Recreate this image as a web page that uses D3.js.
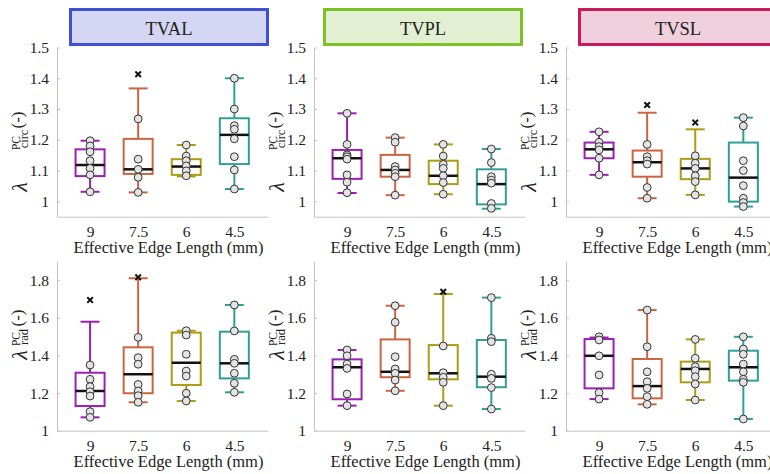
<!DOCTYPE html>
<html>
<head>
<meta charset="utf-8">
<script src="https://cdn.jsdelivr.net/npm/d3@7"></script>
<style>
  html, body { margin: 0; padding: 0; background: #fff; }
  svg { display: block; }
</style>
</head>
<body>
<svg id="chart" width="770" height="474"></svg>
<script>
// Effective edge lengths (mm) shown on every panel
const categories = ["9", "7.5", "6", "4.5"];
const panelNames = ["TVAL", "TVPL", "TVSL"];
const metricNames = ["circ", "rad"];

// Box statistics per edge length: [lower whisker, Q1, median, Q3, upper whisker]
// followed by the individual specimens and the flagged outliers.

// TVAL – circumferential stretch
const tvalCircBoxes = [[1.031, 1.082, 1.118, 1.169, 1.197], [1.029, 1.089, 1.104, 1.203, 1.367], [1.081, 1.086, 1.113, 1.137, 1.183], [1.040, 1.121, 1.216, 1.270, 1.400]];
const tvalCircPoints = [[1.197, 1.180, 1.161, 1.132, 1.107, 1.086, 1.031], [1.268, 1.137, 1.104, 1.078, 1.029], [1.183, 1.147, 1.132, 1.115, 1.099, 1.083], [1.400, 1.300, 1.246, 1.234, 1.203, 1.145, 1.102, 1.040]];
const tvalCircOutliers = [[], [1.413], [], []];

// TVAL – radial stretch
const tvalRadBoxes = [[1.071, 1.131, 1.211, 1.308, 1.579], [1.151, 1.199, 1.300, 1.443, 1.810], [1.158, 1.243, 1.361, 1.521, 1.531], [1.204, 1.278, 1.358, 1.526, 1.668]];
const tvalRadPoints = [[1.349, 1.273, 1.234, 1.207, 1.184, 1.101, 1.071], [1.496, 1.388, 1.353, 1.246, 1.211, 1.186, 1.151], [1.531, 1.508, 1.406, 1.317, 1.290, 1.199, 1.158], [1.668, 1.530, 1.379, 1.358, 1.305, 1.252, 1.204]];
const tvalRadOutliers = [[1.694], [1.815], [], []];

// TVPL – circumferential stretch
const tvplCircBoxes = [[1.027, 1.073, 1.140, 1.167, 1.286], [1.020, 1.080, 1.102, 1.151, 1.207], [1.023, 1.056, 1.083, 1.132, 1.185], [0.976, 0.990, 1.056, 1.104, 1.170]];
const tvplCircPoints = [[1.286, 1.185, 1.151, 1.145, 1.137, 1.086, 1.062, 1.028], [1.207, 1.192, 1.113, 1.102, 1.091, 1.080, 1.020], [1.185, 1.147, 1.120, 1.107, 1.083, 1.061, 1.023], [1.170, 1.126, 1.080, 1.069, 1.059, 0.993, 0.977]];
const tvplCircOutliers = [[], [], [], []];

// TVPL – radial stretch
const tvplRadBoxes = [[1.133, 1.167, 1.337, 1.379, 1.429], [1.212, 1.284, 1.313, 1.485, 1.664], [1.133, 1.273, 1.305, 1.455, 1.726], [1.115, 1.231, 1.287, 1.482, 1.707]];
const tvplRadPoints = [[1.429, 1.398, 1.354, 1.331, 1.195, 1.133], [1.664, 1.576, 1.393, 1.328, 1.305, 1.269, 1.212], [1.450, 1.308, 1.284, 1.257, 1.133], [1.707, 1.491, 1.473, 1.300, 1.278, 1.229, 1.115]];
const tvplRadOutliers = [[], [], [1.738], []];

// TVSL – circumferential stretch
const tvslCircBoxes = [[1.086, 1.140, 1.169, 1.191, 1.226], [1.010, 1.080, 1.127, 1.165, 1.288], [1.021, 1.072, 1.107, 1.138, 1.234], [0.983, 0.999, 1.077, 1.191, 1.272]];
const tvslCircPoints = [[1.226, 1.192, 1.178, 1.167, 1.140, 1.086], [1.185, 1.145, 1.132, 1.121, 1.045, 1.010], [1.148, 1.124, 1.107, 1.083, 1.064, 1.021], [1.272, 1.245, 1.132, 1.100, 1.051, 1.010, 0.996, 0.983]];
const tvslCircOutliers = [[], [1.313], [1.256], []];

// TVSL – radial stretch
const tvslRadBoxes = [[1.168, 1.225, 1.398, 1.487, 1.495], [1.140, 1.172, 1.237, 1.381, 1.641], [1.163, 1.257, 1.328, 1.367, 1.485], [1.062, 1.266, 1.337, 1.425, 1.499]];
const tvslRadPoints = [[1.499, 1.482, 1.398, 1.296, 1.202, 1.168], [1.641, 1.446, 1.313, 1.260, 1.225, 1.181, 1.140], [1.485, 1.385, 1.340, 1.319, 1.287, 1.248, 1.163], [1.499, 1.434, 1.406, 1.354, 1.313, 1.273, 1.257, 1.062]];
const tvslRadOutliers = [[], [], [], []];

// Axis ticks per row
const circTicks = [1, 1.1, 1.2, 1.3, 1.4, 1.5];
const radTicks = [1, 1.2, 1.4, 1.6, 1.8];

// ---------------------------------------------------------------------------
const FONT = "Liberation Serif, Tinos, Times New Roman, Times, DejaVu Serif, serif";
const boxColors = ["#9b1fb5", "#cc6440", "#ae9d14", "#2f9f98"];
const titleFill = ["#d4d6f4", "#e2efd3", "#f1d0dd"];
const titleStroke = ["#3e50d4", "#7cc224", "#c81b5e"];

const panels = [
  { name: panelNames[0], data: [[tvalCircBoxes, tvalCircPoints, tvalCircOutliers], [tvalRadBoxes, tvalRadPoints, tvalRadOutliers]] },
  { name: panelNames[1], data: [[tvplCircBoxes, tvplCircPoints, tvplCircOutliers], [tvplRadBoxes, tvplRadPoints, tvplRadOutliers]] },
  { name: panelNames[2], data: [[tvslCircBoxes, tvslCircPoints, tvslCircOutliers], [tvslRadBoxes, tvslRadPoints, tvslRadOutliers]] }
];

// Layout
const axisLeft = [57, 314, 566];
const axisWidth = 211;
const titleLeft = [69, 323, 578];
// y-label pieces (vertical centres): lambda, superscript, subscript, "(-)"
const rows = [
  { domain: [0.95, 1.5], range: [216.7, 47.5], ticks: circTicks, lab: [187, 143, 139, 120] },
  { domain: [1, 1.9], range: [430.7, 261.3], ticks: radTicks, lab: [355, 339, 337, 318] }
];

const svg = d3.select("#chart").style("font-family", FONT);
const axisGrey = "#c4c4c4";
const textCol = "#222";

function vtext(g, x, y, size, str, italic) {
  return g.append("text")
    .attr("transform", `translate(${x},${y}) rotate(-90)`)
    .attr("text-anchor", "middle")
    .style("font-family", FONT)
    .style("font-size", size + "px")
    .style("font-style", italic ? "italic" : "normal")
    .attr("fill", textCol)
    .text(str);
}

panels.forEach((panel, pi) => {
  const x = d3.scaleLinear().domain([0.3125, 4.7]).range([axisLeft[pi], axisLeft[pi] + axisWidth]);

  // title strip
  svg.append("rect")
    .attr("x", titleLeft[pi] + 1.5).attr("y", 9.5)
    .attr("width", 197).attr("height", 35)
    .attr("fill", titleFill[pi]).attr("stroke", titleStroke[pi]).attr("stroke-width", 3);
  svg.append("text")
    .attr("x", titleLeft[pi] + 100).attr("y", 35)
    .attr("text-anchor", "middle")
    .style("font-family", FONT).style("font-size", "18.5px").attr("fill", textCol)
    .text(panel.name);

  rows.forEach((row, ri) => {
    const y = d3.scaleLinear().domain(row.domain).range(row.range);
    const [boxes, points, outliers] = panel.data[ri];
    const g = svg.append("g");

    // y axis
    const ya = g.append("g")
      .attr("transform", `translate(${axisLeft[pi]},0)`)
      .call(d3.axisLeft(y).tickValues(row.ticks).tickFormat(d3.format("~g")).tickSize(-3).tickSizeOuter(0).tickPadding(8));
    // x axis
    const xa = g.append("g")
      .attr("transform", `translate(0,${row.range[0]})`)
      .call(d3.axisBottom(x).tickValues([1, 2, 3, 4]).tickFormat(i => categories[i - 1]).tickSize(0).tickSizeOuter(0).tickPadding(9));
    [ya, xa].forEach(a => {
      a.attr("font-family", null).attr("font-size", null);
      a.select(".domain").attr("stroke", axisGrey).attr("stroke-width", 1);
      a.selectAll(".tick line").attr("stroke", axisGrey);
      a.selectAll(".tick text").attr("fill", textCol)
        .style("font-family", FONT).style("font-size", "15.5px");
    });

    // x axis title
    g.append("text")
      .attr("x", axisLeft[pi] + 33 + 78.5).attr("y", row.range[0] + 36)
      .attr("text-anchor", "middle").attr("fill", textCol)
      .style("font-family", FONT).style("font-size", "16.5px")
      .text("Effective Edge Length (mm)");

    // y axis title: λ with PC superscript and circ / rad subscript, then (-)
    const ax = axisLeft[pi];
    vtext(g, ax - 30, row.lab[0], 22, "λ", true);
    vtext(g, ax - 37.5, row.lab[1], 11.5, "PC", false);
    vtext(g, ax - 29, row.lab[2], 12.5, metricNames[ri], false);
    vtext(g, ax - 34, row.lab[3], 17, "(-)", false);

    // boxes
    const half = 14.5, cap = 9.5;
    boxes.forEach((b, ci) => {
      const cx = x(ci + 1);
      const col = boxColors[ci];
      const [lo, q1, med, q3, hi] = b;
      const bg = g.append("g");
      bg.append("line").attr("x1", cx).attr("x2", cx).attr("y1", y(q3)).attr("y2", y(hi))
        .attr("stroke", col).attr("stroke-width", 2);
      bg.append("line").attr("x1", cx).attr("x2", cx).attr("y1", y(q1)).attr("y2", y(lo))
        .attr("stroke", col).attr("stroke-width", 2);
      [lo, hi].forEach(v => bg.append("line")
        .attr("x1", cx - cap).attr("x2", cx + cap).attr("y1", y(v)).attr("y2", y(v))
        .attr("stroke", col).attr("stroke-width", 2));
      bg.append("rect")
        .attr("x", cx - half).attr("y", y(q3))
        .attr("width", half * 2).attr("height", y(q1) - y(q3))
        .attr("fill", "none").attr("stroke", col).attr("stroke-width", 2);
      bg.append("line")
        .attr("x1", cx - half).attr("x2", cx + half).attr("y1", y(med)).attr("y2", y(med))
        .attr("stroke", "#111").attr("stroke-width", 2.5);
    });

    // specimens
    points.forEach((pts, ci) => {
      g.selectAll(null).data(pts).enter().append("circle")
        .attr("cx", x(ci + 1)).attr("cy", d => y(d)).attr("r", 3.9)
        .attr("fill", "#e4e4e4").attr("stroke", "#333").attr("stroke-width", 1);
    });

    // outliers
    const sym = d3.symbol().type(d3.symbolTimes).size(22);
    outliers.forEach((os, ci) => {
      g.selectAll(null).data(os).enter().append("path")
        .attr("d", sym)
        .attr("transform", d => `translate(${x(ci + 1)},${y(d)})`)
        .attr("fill", "none").attr("stroke", "#111").attr("stroke-width", 2);
    });
  });
});
</script>
</body>
</html>
